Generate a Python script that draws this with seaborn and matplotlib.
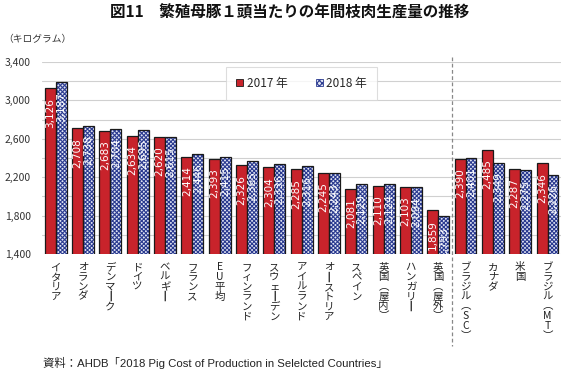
import matplotlib
matplotlib.use("Agg")
import matplotlib.pyplot as plt
import seaborn as sns
import pandas as pd
import numpy as np

categories = ["イタリア", "オランダ", "デンマーク", "ドイツ", "ベルギー", "フランス", "EU平均",
              "フィンランド", "スウェーデン", "アイルランド", "オーストリア", "スペイン",
              "英国（屋内）", "ハンガリー", "英国（屋外）", "ブラジル（SC）", "カナダ", "米国",
              "ブラジル（MT）"]
values_2017 = [3126, 2708, 2683, 2634, 2620, 2414, 2393, 2326, 2304, 2285, 2245, 2081,
               2110, 2103, 1859, 2390, 2485, 2287, 2346]
values_2018 = [3187, 2738, 2704, 2695, 2615, 2446, 2415, 2365, 2336, 2316, 2243, 2129,
               2124, 2094, 1793, 2401, 2349, 2275, 2226]
series = ["2017 年", "2018 年"]
yticks = [1400, 1800, 2200, 2600, 3000, 3400]

sns.set_theme(style="white")
plt.rcParams["font.family"] = ["Noto Sans CJK JP", "DejaVu Sans"]
plt.rcParams["hatch.linewidth"] = 0.8

df = pd.DataFrame({
    "cat": categories * 2,
    "year": [series[0]] * len(categories) + [series[1]] * len(categories),
    "val": values_2017 + values_2018,
})

fig = plt.figure(figsize=(5.68, 3.70), dpi=100)
ax = fig.add_axes([0.074, 0.3135, 0.914, 0.519])

red = "#c8232b"
navy = "#2a3a90"
sns.barplot(data=df, x="cat", y="val", hue="year", palette=[red, "white"],
            width=0.8, ax=ax, legend=False, saturation=1)

ax.set_ylim(1400, 3400)
ax.set_xlim(-0.5, len(categories) - 0.5)
ax.set_yticks(yticks)
ax.set_yticks(np.arange(1400, 3401, 200), minor=True)
ax.set_yticklabels([f"{v:,}" for v in yticks], fontsize=7.5, color="#333333")
ax.tick_params(axis="y", which="both", length=0, pad=8)
ax.tick_params(axis="x", length=0, pad=6)
ax.grid(axis="y", which="both", color="#d0d0d0", linewidth=0.8)
ax.set_axisbelow(True)
for s in ax.spines.values():
    s.set_visible(False)
ax.set_xlabel("")
ax.set_ylabel("")

# style bars
n = len(categories)
patches = list(ax.patches)
bars17 = patches[:n]
bars18 = patches[n:2 * n]
for p in bars17:
    p.set_facecolor(red)
    p.set_edgecolor("#1a1a1a")
    p.set_linewidth(0.9)
for p in bars18:
    p.set_facecolor("#dfe3f2")
    p.set_edgecolor(navy)
    p.set_hatch("xxxxxxxx")
    p.set_linewidth(0)
    x0, y0 = p.get_x(), p.get_y()
    ax.bar(x0, p.get_height(), width=p.get_width(), bottom=y0, align="edge",
           fill=False, edgecolor="#1a1a1a", linewidth=0.9, zorder=p.get_zorder() + 0.1)

# data labels
for bars, vals in ((bars17, values_2017), (bars18, values_2018)):
    for p, v in zip(bars, vals):
        cx = p.get_x() + p.get_width() / 2
        ax.annotate(f"{v:,}", (cx, v), xytext=(0, -7), textcoords="offset points",
                    rotation=90, ha="center", va="top", fontsize=7.5, color="white",
                    family=["DejaVu Sans"], zorder=5)

# vertical tick labels
def vert(s):
    rep = {"ー": "┃", "（": "︵", "）": "︶"}
    return "\n".join(rep.get(c, c) for c in s)

ax.set_xticks(range(n))
ax.set_xticklabels([vert(c) for c in categories], fontsize=7.5, color="#222222",
                   va="top", ha="center", linespacing=0.97, rotation=0)

# divider
ax.plot([n - 4.5, n - 4.5], [3450, 1400 - 960], linestyle=(0, (3, 2)), color="#888888",
        linewidth=0.9, clip_on=False, zorder=6)

# legend
from matplotlib.patches import Patch
handles = [Patch(facecolor=red, edgecolor="#1a1a1a", linewidth=0.6),
           Patch(facecolor="#dfe3f2", edgecolor=navy, hatch="xxxxxx", linewidth=0.6)]
leg = ax.legend(handles, series, loc="upper center", bbox_to_anchor=(0.5, 0.975),
                ncol=2, frameon=True, fontsize=8.5, handlelength=0.6, handleheight=0.6,
                columnspacing=2.4, handletextpad=0.3, borderpad=0.85, borderaxespad=0,
                fancybox=False)
leg.get_frame().set_edgecolor("#d5d5d5")
leg.get_frame().set_linewidth(0.8)

fig.text(0.51, 0.965, "図11　繁殖母豚１頭当たりの年間枝肉生産量の推移", ha="center", va="center",
         fontsize=11.2, fontweight="bold", color="#111111")
fig.text(0.005, 0.895, "（キログラム）", ha="left", va="center", fontsize=7, color="#333333")
fig.text(0.076, 0.02, "資料：AHDB「2018 Pig Cost of Production in Selelcted Countries」",
         ha="left", va="center", fontsize=8.2, color="#222222",
         family=["Liberation Sans", "Noto Sans CJK JP"])

fig.savefig("out.png", dpi=100)
